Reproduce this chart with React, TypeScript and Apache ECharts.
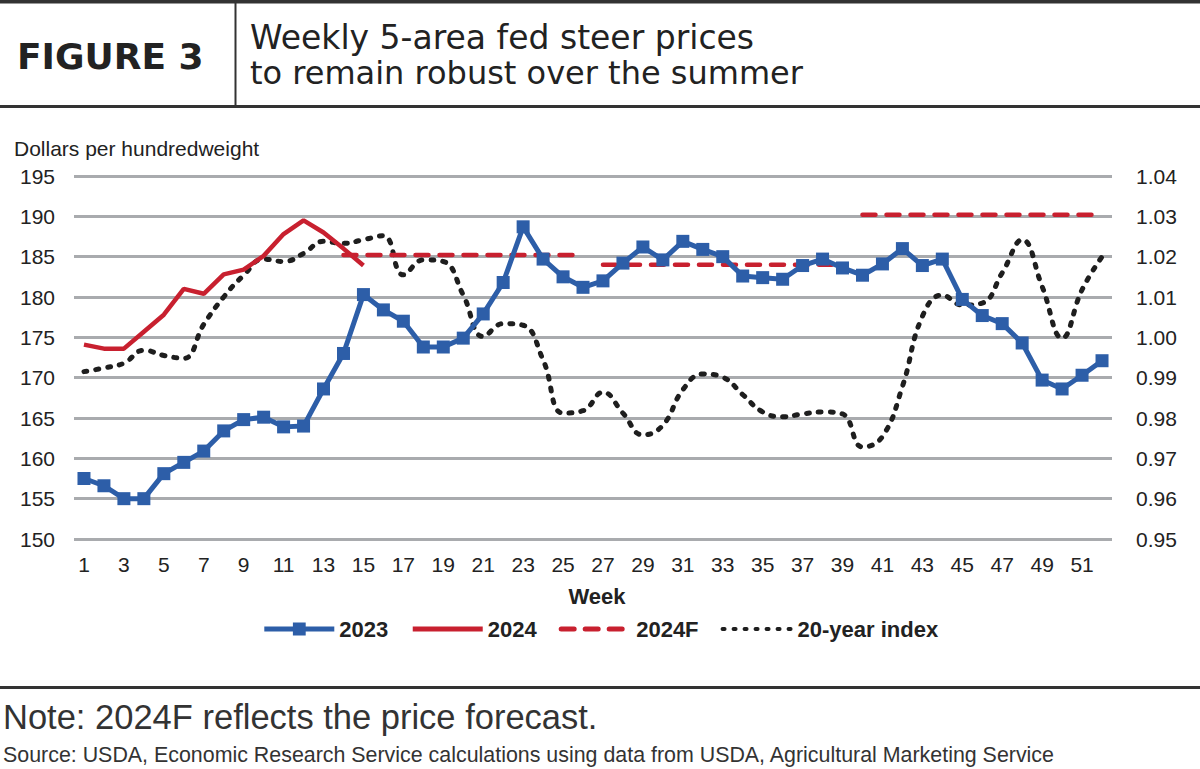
import React, { useEffect, useRef } from "react";
import * as echarts from "echarts";

const weeks: string[] = Array.from({ length: 52 }, (_, i) => String(i + 1));

const prices2023: number[] = [
  157.5, 156.6, 155.0, 155.0, 158.1, 159.5, 160.9, 163.4, 164.8, 165.1,
  163.9, 164.0, 168.6, 173.0, 180.3, 178.4, 177.0, 173.8, 173.8, 174.9,
  177.9, 181.8, 188.7, 184.7, 182.5, 181.2, 182.0, 184.2, 186.2, 184.6,
  186.9, 185.9, 185.0, 182.6, 182.4, 182.2, 183.9, 184.7, 183.6, 182.7,
  184.1, 186.0, 183.9, 184.7, 179.7, 177.7, 176.7, 174.3, 169.7, 168.6,
  170.3, 172.1,
];

const prices2024: number[] = [
  174.1, 173.6, 173.6, 175.7, 177.8, 181.0, 180.4, 182.8, 183.4, 185.1,
  187.8, 189.5, 188.0, 186.0, 183.9,
];

// 2024 forecast segments: [week, value] endpoints
const forecastQ2: [string, number][] = [["14", 185.2], ["26", 185.2]];
const forecastQ3: [string, number][] = [["27", 184.0], ["39", 184.0]];
const forecastQ4: [string, number][] = [["40", 190.2], ["52", 190.2]];

const index20yr: number[] = [
  0.9915, 0.9924, 0.9936, 0.9968, 0.9955, 0.9948, 1.0032, 1.01, 1.0154, 1.0194,
  1.0188, 1.0208, 1.0238, 1.0233, 1.0242, 1.0252, 1.0155, 1.0192, 1.0188, 1.0105,
  1.0002, 1.0034, 1.003, 0.9944, 0.9812, 0.9818, 0.9864, 0.9812, 0.9758, 0.9782,
  0.987, 0.9909, 0.9901, 0.9858, 0.9815, 0.9803, 0.981, 0.9815, 0.981, 0.9728,
  0.9754, 0.9878, 1.0052, 1.0105, 1.008, 1.0085, 1.016, 1.0242, 1.0126, 0.9998,
  1.0118, 1.02,
];

const legendNames = ["2023", "2024", "2024F", "20-year index"];

const BLUE = "#2d5ea8";
const RED = "#c8202f";
const DARK = "#1e1e1e";
const SANS = "'Liberation Sans', Arial, sans-serif";

const DOT_DASH = [3, 9];
const FORECAST_DASH = [13, 11];

export default function App() {
  const ref = useRef<HTMLDivElement>(null);

  useEffect(() => {
    if (!ref.current) return;
    const chart = echarts.init(ref.current, undefined, { renderer: "svg" });
    const forecastStyle = {
      color: RED,
      width: 4.5,
      type: FORECAST_DASH,
      cap: "round" as const,
    };
    chart.setOption({
      animation: false,
      backgroundColor: "#ffffff",
      grid: { left: 74, right: 88, top: 176, bottom: 230, containLabel: false },
      legend: {
        data: [
          { name: legendNames[0], lineStyle: { width: 5 } },
          { name: legendNames[1], lineStyle: { width: 5 }, itemStyle: { opacity: 0 } },
          {
            name: legendNames[2],
            lineStyle: { width: 5, type: FORECAST_DASH, cap: "round" },
            itemStyle: { opacity: 0 },
          },
          {
            name: legendNames[3],
            lineStyle: { width: 4, type: [2, 9], cap: "round" },
            itemStyle: { opacity: 0 },
          },
        ],
        left: "center",
        top: 618,
        padding: 0,
        itemWidth: 70,
        itemHeight: 16,
        itemGap: 22,
        textStyle: { fontFamily: SANS, fontWeight: "bold", fontSize: 22, color: "#222" },
      },
      xAxis: {
        type: "category",
        data: weeks,
        boundaryGap: true,
        axisLine: { show: false },
        axisTick: { show: false },
        axisLabel: {
          interval: 1,
          margin: 15,
          fontFamily: SANS,
          fontSize: 21,
          color: "#222",
        },
      },
      yAxis: [
        {
          type: "value",
          min: 150,
          max: 195,
          interval: 5,
          axisLine: { show: false },
          axisTick: { show: false },
          axisLabel: { margin: 19, fontFamily: SANS, fontSize: 21, color: "#222" },
          splitLine: { show: true, lineStyle: { color: "#a9abae", width: 3 } },
        },
        {
          type: "value",
          min: 0.95,
          max: 1.04,
          interval: 0.01,
          position: "right",
          axisLine: { show: false },
          axisTick: { show: false },
          axisLabel: {
            margin: 24,
            fontFamily: SANS,
            fontSize: 21,
            color: "#222",
            formatter: (v: number) => v.toFixed(2),
          },
          splitLine: { show: false },
        },
      ],
      series: [
        {
          name: "20-year index",
          type: "line",
          yAxisIndex: 1,
          data: index20yr,
          smooth: 0.45,
          symbol: "none",
          z: 2,
          lineStyle: { color: DARK, width: 5, type: DOT_DASH, cap: "round" },
          itemStyle: { color: DARK },
        },
        {
          name: "2024F",
          type: "line",
          data: forecastQ2,
          symbol: "none",
          z: 3,
          lineStyle: forecastStyle,
          itemStyle: { color: RED },
        },
        {
          name: "2024F",
          type: "line",
          data: forecastQ3,
          symbol: "none",
          z: 3,
          lineStyle: forecastStyle,
          itemStyle: { color: RED },
        },
        {
          name: "2024F",
          type: "line",
          data: forecastQ4,
          symbol: "none",
          z: 3,
          lineStyle: forecastStyle,
          itemStyle: { color: RED },
        },
        {
          name: "2024",
          type: "line",
          data: prices2024,
          symbol: "none",
          z: 4,
          lineStyle: { color: RED, width: 4.5 },
          itemStyle: { color: RED },
        },
        {
          name: "2023",
          type: "line",
          data: prices2023,
          symbol: "rect",
          symbolSize: 13,
          showSymbol: true,
          z: 5,
          lineStyle: { color: BLUE, width: 5 },
          itemStyle: { color: BLUE },
        },
      ],
      graphic: [
        { type: "rect", shape: { x: 0, y: 0, width: 1200, height: 3.5 }, style: { fill: "#333" } },
        { type: "rect", shape: { x: 0, y: 105, width: 1200, height: 3 }, style: { fill: "#333" } },
        { type: "rect", shape: { x: 234.5, y: 0, width: 2, height: 106 }, style: { fill: "#333" } },
        { type: "rect", shape: { x: 0, y: 686, width: 1200, height: 3 }, style: { fill: "#333" } },
        {
          type: "text",
          x: 17,
          y: 56,
          style: {
            text: "FIGURE 3",
            font: "bold 36px 'DejaVu Sans', sans-serif",
            fill: "#222",
            verticalAlign: "middle",
          },
        },
        {
          type: "text",
          x: 250,
          y: 37,
          style: {
            text: "Weekly 5-area fed steer prices",
            font: "33px 'DejaVu Sans', sans-serif",
            fill: "#222",
            verticalAlign: "middle",
          },
        },
        {
          type: "text",
          x: 250,
          y: 73,
          style: {
            text: "to remain robust over the summer",
            font: "32px 'DejaVu Sans', sans-serif",
            fill: "#222",
            verticalAlign: "middle",
          },
        },
        {
          type: "text",
          x: 14,
          y: 148,
          style: {
            text: "Dollars per hundredweight",
            font: `21px ${SANS}`,
            fill: "#222",
            verticalAlign: "middle",
          },
        },
        {
          type: "text",
          x: 597,
          y: 596,
          style: {
            text: "Week",
            font: `bold 22px ${SANS}`,
            fill: "#222",
            align: "center",
            verticalAlign: "middle",
          },
        },
        {
          type: "text",
          x: 3,
          y: 717,
          style: {
            text: "Note: 2024F reflects the price forecast.",
            font: `34.5px ${SANS}`,
            fill: "#333",
            verticalAlign: "middle",
          },
        },
        {
          type: "text",
          x: 3,
          y: 755,
          style: {
            text: "Source: USDA, Economic Research Service calculations using data from USDA, Agricultural Marketing Service",
            font: `21.4px ${SANS}`,
            fill: "#333",
            verticalAlign: "middle",
          },
        },
      ],
    });
    return () => chart.dispose();
  }, []);

  return (
    <div
      ref={ref}
      style={{ position: "fixed", left: 0, top: 0, width: 1200, height: 769, background: "#fff" }}
    />
  );
}
